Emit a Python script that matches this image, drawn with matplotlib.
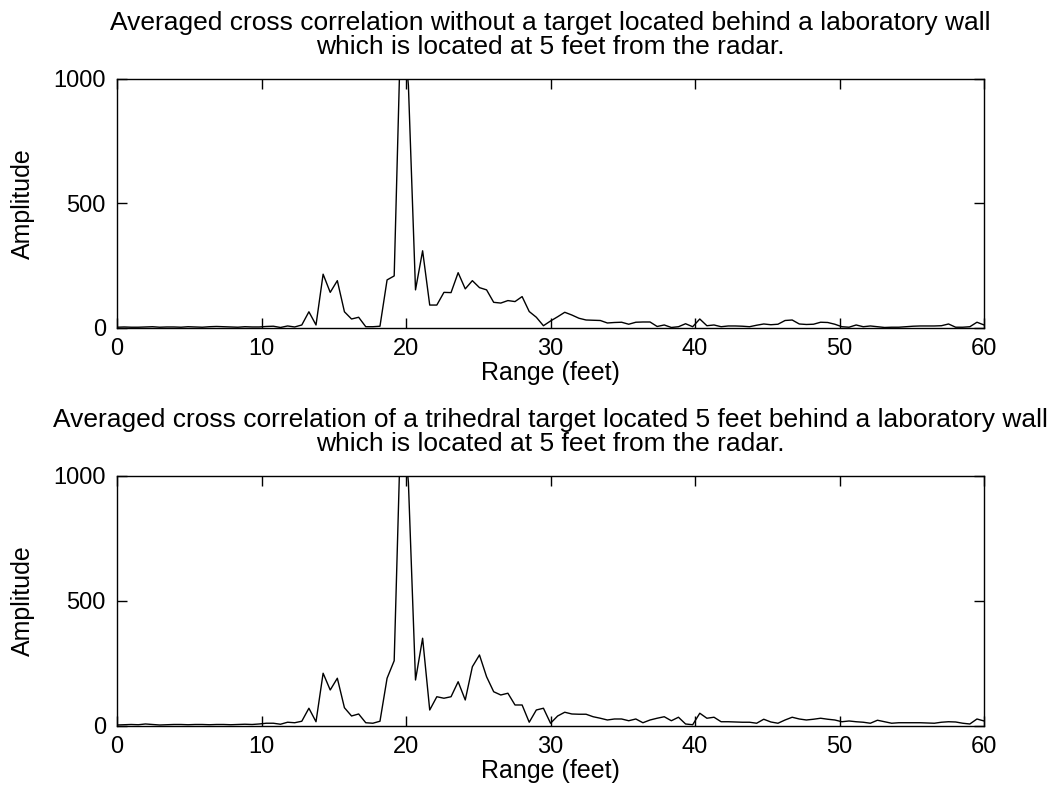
import matplotlib.pyplot as plt
import numpy as np

# Averaged cross-correlation magnitude, one sample every ~0.49 ft from 0 to 60 ft
AMP_NO_TARGET = [
    3, 4, 3, 3, 4, 5, 3, 4, 4, 3, 5, 4, 3, 5, 6, 5, 4, 3, 5, 4,
    4, 6, 7, 2, 8, 4, 12, 65, 12, 216, 143, 190, 65, 36, 43, 5, 5, 7, 193, 209,
    1290, 975,
    153, 310, 92, 92, 143, 142, 222, 157, 190, 162, 153, 103, 100, 110, 106, 126,
    66, 43, 9, 28, 45, 63, 52, 39,
    32, 31, 30, 20, 22, 23, 15, 23, 24, 24, 6, 12, 2, 5, 17, 5, 36, 9,
    12, 5, 8, 8, 7, 5, 11, 16, 13, 15, 30, 32, 16, 14, 15, 23, 22, 15, 5, 3,
    12, 5, 8, 5, 2, 3, 3, 5, 7, 8, 8, 8, 9, 16, 3, 3, 5, 23, 12,
]

AMP_TRIHEDRAL = [
    4, 5, 6, 5, 8, 6, 4, 5, 6, 6, 5, 6, 6, 5, 6, 6, 5, 6, 7, 6,
    8, 11, 11, 7, 15, 13, 19, 71, 17, 211, 144, 191, 73, 40, 48, 13, 11, 19, 191, 261,
    1280, 975,
    184, 351, 64, 117, 111, 117, 177, 104, 237, 284, 197, 137, 124, 131, 84, 84,
    15, 64, 71, 11, 40, 55, 48, 47,
    47, 37, 31, 24, 28, 28, 21, 28, 13, 24, 31, 37, 21, 35, 8, 5, 51, 31,
    35, 17, 17, 16, 15, 15, 11, 27, 16, 11, 24, 35, 28, 24, 27, 31, 27, 24, 17, 20,
    17, 15, 11, 23, 17, 11, 13, 13, 13, 13, 12, 11, 15, 17, 16, 11, 8, 28, 20,
]

TITLES = [
    "Averaged cross correlation without a target located behind a laboratory wall\n"
    "which is located at 5 feet from the radar.",
    "Averaged cross correlation of a trihedral target located 5 feet behind a laboratory wall\n"
    "which is located at 5 feet from the radar.",
]

X_TICKS = [0, 10, 20, 30, 40, 50, 60]
Y_TICKS = [0, 500, 1000]


def _style_ax(ax):
    ax.set_xlim(0, 60)
    ax.set_ylim(0, 1000)
    ax.set_xticks(X_TICKS)
    ax.set_yticks(Y_TICKS)
    ax.tick_params(direction="in", top=True, right=True, length=7,
                   width=1, labelsize=17, pad=8)
    ax.tick_params(axis="x", pad=7)
    for sp in ax.spines.values():
        sp.set_linewidth(1.0)
    ax.set_xlabel("Range (feet)", fontsize=18, labelpad=1)
    ax.set_ylabel("Amplitude", fontsize=18, labelpad=13)


plt.rcParams.update({"font.family": ["Liberation Sans", "DejaVu Sans"]})

fig = plt.figure(figsize=(10.57, 7.97), dpi=100)
ax_top = fig.add_axes([0.1107, 0.5885, 0.8203, 0.3124])
ax_bot = fig.add_axes([0.1107, 0.0891, 0.8203, 0.3137])

for ax, amp, title in zip([ax_top, ax_bot], [AMP_NO_TARGET, AMP_TRIHEDRAL], TITLES):
    rng = np.linspace(0, 60, len(amp))
    ax.plot(rng, amp, color="black", linewidth=1.0)
    _style_ax(ax)
    ax.set_title(title, fontsize=19, pad=18, linespacing=1.0)

fig.savefig("out.png", dpi=100)
